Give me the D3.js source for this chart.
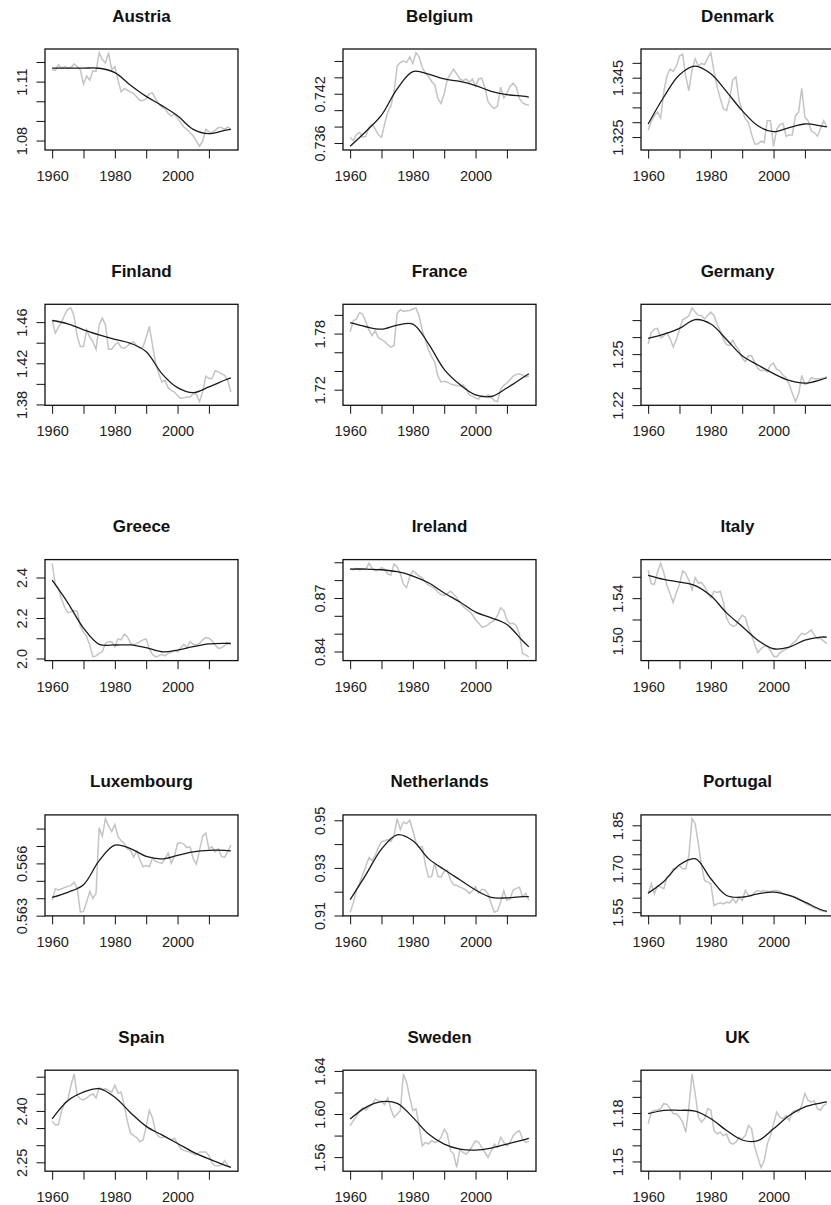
<!DOCTYPE html>
<html>
<head>
<meta charset="utf-8">
<script src="https://cdn.jsdelivr.net/npm/d3@7"></script>
<style>
body{margin:0;background:#fff;}
text{font-family:"Liberation Sans",Arial,sans-serif;}
</style>
</head>
<body>
<div class="canvas"></div>
<script>
// years of the yearly series and of the fitted trend points
const years=d3.range(1960,2018);
const trendYears=[1960,1965,1970,1975,1980,1985,1990,1995,2000,2005,2010,2015,2017];

const countries=['Austria','Belgium','Denmark','Finland','France','Germany','Greece','Ireland','Italy',
'Luxembourg','Netherlands','Portugal','Spain','Sweden','UK'];

// yearly values (grey)
const austria=[1.1160,1.1157,1.1186,1.1169,1.1177,1.1169,1.1172,1.1190,1.1177,1.1160,
1.1087,1.1129,1.1108,1.1155,1.1152,1.1247,1.1212,1.1195,1.1247,1.1160,
1.1177,1.1108,1.1048,1.1065,1.1056,1.1048,1.1039,1.1022,1.1004,1.1004,
1.1013,1.1039,1.1042,1.1013,1.0987,1.0970,1.0961,1.0939,1.0926,1.0935,
1.0914,1.0892,1.0869,1.0857,1.0840,1.0823,1.0797,1.0771,1.0797,1.0857,
1.0845,1.0840,1.0852,1.0866,1.0866,1.0857,1.0869,1.0857];
const belgium=[0.7367,0.7363,0.7370,0.7373,0.7367,0.7368,0.7379,0.7383,0.7377,0.7370,
0.7367,0.7383,0.7398,0.7405,0.7422,0.7454,0.7458,0.7460,0.7458,0.7465,
0.7457,0.7470,0.7465,0.7452,0.7445,0.7441,0.7435,0.7431,0.7414,0.7408,
0.7420,0.7438,0.7444,0.7450,0.7444,0.7438,0.7436,0.7438,0.7434,0.7438,
0.7429,0.7438,0.7439,0.7427,0.7410,0.7405,0.7402,0.7405,0.7428,0.7415,
0.7420,0.7429,0.7433,0.7428,0.7414,0.7409,0.7407,0.7406];
const denmark=[1.3273,1.3303,1.3322,1.3334,1.3314,1.3403,1.3456,1.3479,1.3471,1.3489,
1.3523,1.3529,1.3454,1.3406,1.3477,1.3514,1.3489,1.3498,1.3494,1.3517,
1.3534,1.3471,1.3420,1.3380,1.3345,1.3339,1.3380,1.3443,1.3452,1.3374,
1.3339,1.3311,1.3299,1.3259,1.3227,1.3227,1.3236,1.3231,1.3305,1.3305,
1.3219,1.3276,1.3291,1.3296,1.3253,1.3257,1.3257,1.3322,1.3334,1.3414,
1.3317,1.3305,1.3271,1.3265,1.3253,1.3280,1.3305,1.3284];
const finland=[1.4616,1.4492,1.4551,1.4597,1.4672,1.4727,1.4737,1.4656,1.4460,1.4362,
1.4362,1.4525,1.4453,1.4411,1.4336,1.4574,1.4639,1.4574,1.4336,1.4336,
1.4378,1.4404,1.4355,1.4345,1.4368,1.4394,1.4407,1.4368,1.4345,1.4362,
1.4453,1.4558,1.4378,1.4198,1.4100,1.4019,1.4035,1.3963,1.3937,1.3921,
1.3885,1.3859,1.3865,1.3872,1.3872,1.3904,1.3898,1.3828,1.3921,1.4074,
1.4051,1.4051,1.4127,1.4117,1.4100,1.4084,1.4035,1.3921];
const france=[1.7818,1.7938,1.7953,1.8025,1.8007,1.7927,1.7836,1.7778,1.7829,1.7756,
1.7735,1.7713,1.7680,1.7655,1.7673,1.8018,1.8055,1.8036,1.8044,1.8047,
1.8062,1.8073,1.7989,1.7836,1.7727,1.7625,1.7553,1.7491,1.7345,1.7280,
1.7291,1.7280,1.7262,1.7251,1.7244,1.7240,1.7251,1.7211,1.7145,1.7131,
1.7109,1.7102,1.7138,1.7127,1.7145,1.7124,1.7080,1.7073,1.7200,1.7247,
1.7269,1.7309,1.7345,1.7364,1.7371,1.7356,1.7335,1.7345];
const germany=[1.2560,1.2627,1.2647,1.2651,1.2596,1.2607,1.2627,1.2590,1.2542,1.2586,
1.2647,1.2703,1.2711,1.2727,1.2771,1.2747,1.2727,1.2727,1.2707,1.2727,
1.2747,1.2727,1.2677,1.2637,1.2590,1.2556,1.2550,1.2582,1.2546,1.2522,
1.2476,1.2456,1.2490,1.2490,1.2450,1.2416,1.2402,1.2406,1.2397,1.2436,
1.2446,1.2410,1.2402,1.2377,1.2361,1.2321,1.2269,1.2221,1.2265,1.2375,
1.2321,1.2329,1.2361,1.2355,1.2355,1.2355,1.2361,1.2365];
const greece=[2.470,2.367,2.347,2.292,2.253,2.225,2.230,2.237,2.233,2.158,
2.130,2.108,2.067,2.008,2.013,2.025,2.033,2.075,2.083,2.083,
2.058,2.097,2.092,2.120,2.108,2.075,2.067,2.075,2.083,2.092,
2.097,2.047,2.020,2.008,2.013,2.020,2.013,2.025,2.030,2.040,
2.033,2.053,2.070,2.053,2.083,2.070,2.067,2.075,2.092,2.103,
2.100,2.087,2.067,2.050,2.053,2.063,2.073,2.070];
const ireland=[0.8866,0.8857,0.8866,0.8857,0.8864,0.8860,0.8894,0.8868,0.8853,0.8857,
0.8870,0.8860,0.8834,0.8828,0.8891,0.8875,0.8834,0.8777,0.8758,0.8819,
0.8853,0.8838,0.8823,0.8813,0.8789,0.8772,0.8764,0.8753,0.8732,0.8719,
0.8715,0.8725,0.8738,0.8721,0.8702,0.8677,0.8653,0.8636,0.8626,0.8606,
0.8577,0.8560,0.8536,0.8540,0.8551,0.8564,0.8574,0.8602,0.8645,0.8630,
0.8577,0.8555,0.8558,0.8545,0.8498,0.8389,0.8381,0.8370];
const italy=[1.5662,1.5534,1.5528,1.5646,1.5726,1.5637,1.5518,1.5438,1.5358,1.5454,
1.5528,1.5656,1.5630,1.5566,1.5477,1.5592,1.5541,1.5547,1.5509,1.5445,
1.5406,1.5464,1.5454,1.5464,1.5358,1.5214,1.5157,1.5138,1.5144,1.5198,
1.5240,1.5221,1.5118,1.5054,1.4965,1.4888,1.4926,1.4952,1.4952,1.4910,
1.4856,1.4850,1.4888,1.4907,1.4923,1.4939,1.4974,1.4997,1.5038,1.5070,
1.5061,1.5080,1.5102,1.5054,1.5022,1.5022,1.4997,1.4974];
const luxembourg=[0.56389,0.56454,0.56448,0.56454,0.56462,0.56468,0.56474,0.56492,0.56454,0.56320,
0.56324,0.56379,0.56438,0.56399,0.56428,0.56804,0.56755,0.56857,0.56814,0.56784,
0.56824,0.56755,0.56731,0.56715,0.56685,0.56675,0.56636,0.56672,0.56620,0.56581,
0.56587,0.56581,0.56632,0.56612,0.56606,0.56600,0.56626,0.56660,0.56600,0.56640,
0.56715,0.56719,0.56711,0.56691,0.56695,0.56626,0.56596,0.56675,0.56755,0.56774,
0.56685,0.56695,0.56666,0.56685,0.56640,0.56636,0.56666,0.56705];
const netherlands=[0.9114,0.9153,0.9207,0.9236,0.9270,0.9307,0.9343,0.9331,0.9353,0.9386,
0.9410,0.9414,0.9419,0.9410,0.9436,0.9507,0.9461,0.9493,0.9486,0.9500,
0.9457,0.9407,0.9386,0.9390,0.9314,0.9261,0.9264,0.9321,0.9264,0.9261,
0.9286,0.9290,0.9250,0.9229,0.9226,0.9219,0.9214,0.9207,0.9193,0.9204,
0.9221,0.9193,0.9210,0.9207,0.9190,0.9150,0.9114,0.9119,0.9157,0.9204,
0.9164,0.9170,0.9207,0.9214,0.9219,0.9179,0.9193,0.9164];
const portugal=[1.6135,1.6481,1.6135,1.6423,1.6365,1.6308,1.6712,1.6769,1.7000,1.7000,
1.7115,1.7000,1.7000,1.7462,1.8731,1.8558,1.7865,1.7115,1.6596,1.6538,
1.6481,1.5731,1.5788,1.5823,1.5788,1.5846,1.5823,1.5962,1.5823,1.6019,
1.5904,1.6250,1.6077,1.6054,1.6192,1.6250,1.6215,1.6250,1.6215,1.6215,
1.6250,1.6250,1.6215,1.6135,1.6100,1.6077,1.6054,1.6019,1.5962,1.5904,
1.5823,1.5754,1.5708,1.5639,1.5615,1.5558,1.5535,1.5500];
const spain=[2.370,2.360,2.360,2.400,2.425,2.432,2.475,2.508,2.445,2.435,
2.432,2.438,2.445,2.450,2.438,2.468,2.462,2.465,2.460,2.455,
2.475,2.452,2.455,2.415,2.370,2.335,2.328,2.322,2.310,2.315,
2.355,2.402,2.380,2.338,2.325,2.322,2.325,2.320,2.315,2.320,
2.305,2.290,2.285,2.282,2.280,2.275,2.272,2.280,2.280,2.280,
2.270,2.248,2.240,2.240,2.242,2.255,2.240,2.235];
const sweden=[1.5891,1.5938,1.5975,1.6031,1.6056,1.6037,1.6068,1.6087,1.6140,1.6124,
1.6118,1.6087,1.6149,1.6047,1.5969,1.6000,1.6031,1.6372,1.6295,1.6155,
1.6031,1.6047,1.5891,1.5705,1.5736,1.5721,1.5752,1.5736,1.5746,1.5783,
1.5860,1.5814,1.5659,1.5628,1.5504,1.5674,1.5643,1.5628,1.5659,1.5705,
1.5752,1.5736,1.5690,1.5643,1.5597,1.5659,1.5721,1.5690,1.5783,1.5736,
1.5705,1.5736,1.5798,1.5829,1.5845,1.5767,1.5736,1.5746];
const uk=[1.1733,1.1806,1.1817,1.1817,1.1827,1.1858,1.1854,1.1827,1.1796,1.1796,
1.1775,1.1744,1.1681,1.1838,1.2042,1.1921,1.1775,1.1744,1.1765,1.1827,
1.1817,1.1692,1.1671,1.1681,1.1660,1.1671,1.1619,1.1608,1.1619,1.1650,
1.1640,1.1660,1.1723,1.1702,1.1588,1.1525,1.1463,1.1504,1.1608,1.1660,
1.1733,1.1806,1.1775,1.1765,1.1785,1.1754,1.1806,1.1817,1.1806,1.1848,
1.1921,1.1879,1.1869,1.1875,1.1827,1.1817,1.1848,1.1858];

// smoothed trend (black), at trendYears
const austriaTrend=[1.1169,1.1169,1.1169,1.1168,1.1146,1.1082,1.1025,1.0978,1.0926,1.0857,1.0835,1.0852,1.0857];
const belgiumTrend=[0.7356,0.7374,0.7394,0.7426,0.7447,0.7444,0.7438,0.7435,0.7430,0.7423,0.7419,0.7417,0.7416];
const denmarkTrend=[1.3294,1.3385,1.3460,1.3489,1.3463,1.3403,1.3339,1.3288,1.3268,1.3282,1.3294,1.3288,1.3284];
const finlandTrend=[1.4616,1.4584,1.4525,1.4476,1.4433,1.4394,1.4313,1.4100,1.3963,1.3914,1.3970,1.4035,1.4058];
const franceTrend=[1.7916,1.7873,1.7847,1.7891,1.7902,1.7691,1.7418,1.7255,1.7145,1.7127,1.7218,1.7327,1.7371];
const germanyTrend=[1.2592,1.2617,1.2651,1.2703,1.2677,1.2586,1.2490,1.2436,1.2385,1.2345,1.2329,1.2349,1.2361];
const greeceTrend=[2.3867,2.275,2.150,2.070,2.0667,2.0667,2.0533,2.0333,2.0417,2.0583,2.0717,2.075,2.075];
const irelandTrend=[0.8862,0.8862,0.8858,0.8847,0.8823,0.8785,0.8728,0.8677,0.8621,0.8589,0.8551,0.8460,0.8426];
const italyTrend=[1.5614,1.5576,1.5550,1.5518,1.5422,1.5262,1.5134,1.5006,1.4926,1.4942,1.5006,1.5035,1.5035];
const luxembourgTrend=[0.56405,0.56434,0.56478,0.56616,0.56705,0.56685,0.56640,0.56626,0.56646,0.56666,0.56675,0.56675,0.56672];
const netherlandsTrend=[0.9167,0.9271,0.9379,0.9439,0.9414,0.9339,0.9293,0.9250,0.9207,0.9176,0.9174,0.9179,0.9179];
const portugalTrend=[1.6158,1.6562,1.7138,1.7346,1.6654,1.6077,1.6019,1.6135,1.6192,1.6077,1.5846,1.5592,1.5523];
const spainTrend=[2.377,2.430,2.455,2.465,2.440,2.395,2.355,2.330,2.305,2.280,2.260,2.242,2.235];
const swedenTrend=[1.5953,1.6062,1.6115,1.6099,1.5969,1.5814,1.5721,1.5674,1.5665,1.5684,1.5721,1.5758,1.5774];
const ukTrend=[1.1796,1.1817,1.1817,1.1812,1.1765,1.1692,1.1633,1.1629,1.1702,1.1785,1.1838,1.1862,1.1869];

const rawSeries=[austria,belgium,denmark,finland,france,germany,greece,ireland,italy,
luxembourg,netherlands,portugal,spain,sweden,uk];
const trendSeries=[austriaTrend,belgiumTrend,denmarkTrend,finlandTrend,franceTrend,germanyTrend,
greeceTrend,irelandTrend,italyTrend,luxembourgTrend,netherlandsTrend,portugalTrend,spainTrend,swedenTrend,ukTrend];

// y ticks and the labels R kept
const yTicks=[
[1.08,1.09,1.10,1.11,1.12],
[0.736,0.738,0.740,0.742,0.744,0.746],
[1.325,1.330,1.335,1.340,1.345,1.350],
[1.38,1.40,1.42,1.44,1.46],
[1.72,1.74,1.76,1.78,1.80],
[1.22,1.23,1.24,1.25,1.26,1.27],
[2.0,2.1,2.2,2.3,2.4],
[0.84,0.85,0.86,0.87,0.88,0.89],
[1.50,1.52,1.54,1.56],
[0.563,0.564,0.565,0.566,0.567,0.568],
[0.91,0.92,0.93,0.94,0.95],
[1.55,1.60,1.65,1.70,1.75,1.80,1.85],
[2.25,2.30,2.35,2.40,2.45,2.50],
[1.56,1.58,1.60,1.62,1.64],
[1.15,1.16,1.17,1.18,1.19,1.20]];
const yTickLabels=[
['1.08','1.11'],['0.736','0.742'],['1.325','1.345'],['1.38','1.42','1.46'],['1.72','1.78'],
['1.22','1.25'],['2.0','2.2','2.4'],['0.84','0.87'],['1.50','1.54'],
['0.563','0.566'],['0.91','0.93','0.95'],['1.55','1.70','1.85'],
['2.25','2.40'],['1.56','1.60','1.64'],['1.15','1.18']];

const xTicks=[1960,1970,1980,1990,2000,2010];
const xTickLabels=['1960','','1980','','2000',''];

const svg=d3.select('.canvas').append('svg')
.attr('width',831)
.attr('height',1205);

const boxW=193, boxH=101;

countries.forEach((name,i)=>{
    const col=i%3, row=Math.floor(i/3);
    const left=45+col*298, top=49+row*255.3;

    const graph=svg.append('g')
    .attr('transform',`translate(${left},${top})`);

    const raw=rawSeries[i], trend=trendSeries[i];
    const all=raw.concat(trend);
    const lo=d3.min(all), hi=d3.max(all);
    const pad=(hi-lo)*0.04;

    // R style 4% padding on both axes
    const x=d3.scaleLinear()
    .domain([1960-57*0.04,2017+57*0.04])
    .range([0,boxW]);
    const y=d3.scaleLinear()
    .domain([lo-pad,hi+pad])
    .range([boxH,0]);

    const xAxis=d3.axisBottom(x)
    .tickValues(xTicks)
    .tickSize(8.5)
    .tickSizeOuter(0)
    .tickFormat((d,k)=>xTickLabels[k]);

    const labels=yTickLabels[i];
    const ticks=yTicks[i].filter(t=>t>=y.domain()[0]-1e-9&&t<=y.domain()[1]+1e-9);
    const yAxis=d3.axisLeft(y)
    .tickValues(ticks)
    .tickSize(8.5)
    .tickSizeOuter(0)
    .tickFormat(d=>{
        const s=labels.find(l=>Math.abs(+l-d)<1e-9);
        return s?s:'';
    });

    const xAxisGroup=graph.append('g')
    .attr('transform',`translate(0,${boxH})`)
    .call(xAxis);
    const yAxisGroup=graph.append('g')
    .call(yAxis);

    [xAxisGroup,yAxisGroup].forEach(a=>{
        a.select('.domain').remove();
        a.selectAll('line').attr('stroke','#111').attr('stroke-width',1);
    });

    xAxisGroup.selectAll('text')
    .attr('y',31)
    .attr('dy',0)
    .attr('font-size',14.5)
    .attr('fill','#222');

    yAxisGroup.selectAll('text')
    .attr('transform','rotate(-90)')
    .attr('x',0)
    .attr('y',-18.5)
    .attr('dy',0)
    .attr('text-anchor','middle')
    .attr('font-size',14.5)
    .attr('fill','#222');

    const rawLine=d3.line()
    .x((d,k)=>x(years[k]))
    .y(d=>y(d));

    const trendLine=d3.line()
    .x((d,k)=>x(trendYears[k]))
    .y(d=>y(d))
    .curve(d3.curveCatmullRom.alpha(0.5));

    graph.append('path')
    .attr('d',rawLine(raw))
    .attr('fill','none')
    .attr('stroke','#c4c4c4')
    .attr('stroke-width',1.5);

    graph.append('path')
    .attr('d',trendLine(trend))
    .attr('fill','none')
    .attr('stroke','#1a1a1a')
    .attr('stroke-width',1.3);

    graph.append('rect')
    .attr('width',boxW)
    .attr('height',boxH)
    .attr('fill','none')
    .attr('stroke','#111')
    .attr('stroke-width',1.3);

    graph.append('text')
    .attr('x',boxW/2)
    .attr('y',-27.5)
    .attr('text-anchor','middle')
    .attr('font-size',17)
    .attr('font-weight','bold')
    .attr('fill','#111')
    .text(name);
});
</script>
</body>
</html>
